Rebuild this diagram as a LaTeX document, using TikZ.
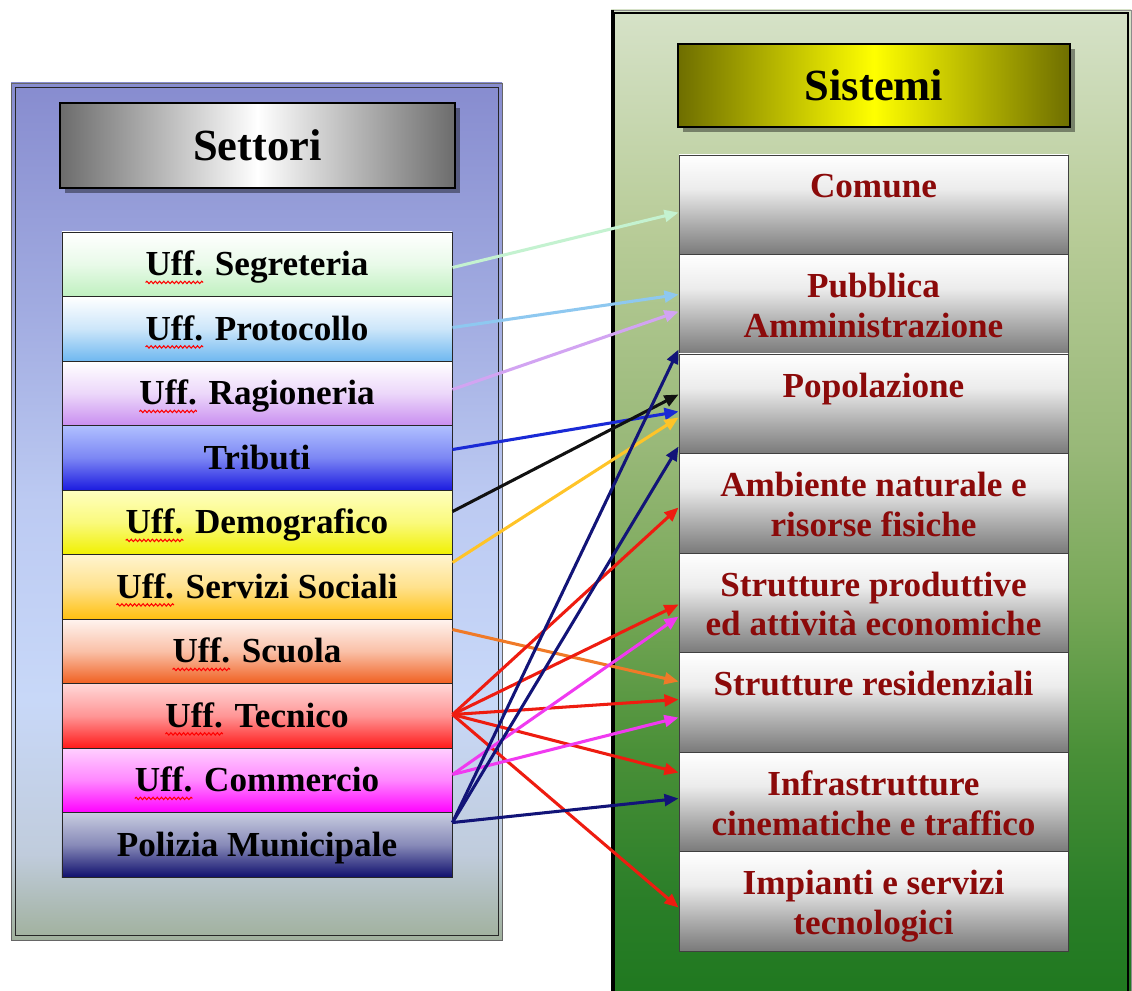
\documentclass[tikz,border=0pt]{standalone}
\usepackage{fontspec}
\setmainfont{Liberation Serif}
\usetikzlibrary{arrows.meta,calc,shadows,decorations.pathmorphing}

% panel colours
\definecolor{lp0}{HTML}{A0B09C}
\definecolor{lp1}{HTML}{C0CCDC}
\definecolor{lp2}{HTML}{C8D8F8}
\definecolor{lp3}{HTML}{BCCAF2}
\definecolor{lp4}{HTML}{A0AAE0}
\definecolor{lp5}{HTML}{878CCF}
\definecolor{rp0}{HTML}{1F781F}
\definecolor{rp1}{HTML}{2A7E28}
\definecolor{rp2}{HTML}{4A9038}
\definecolor{rp3}{HTML}{78A858}
\definecolor{rp4}{HTML}{98B878}
\definecolor{rp5}{HTML}{B8CC98}
\definecolor{rp6}{HTML}{D6E2C8}
\definecolor{rr0}{HTML}{7A7A7A}
\definecolor{rr1}{HTML}{ACACAC}
\definecolor{rr2}{HTML}{ECECEC}
\definecolor{hdrgray}{HTML}{6C6C6C}
\definecolor{olive0}{HTML}{6E6E00}
\definecolor{maroon0}{HTML}{8B0A0A}
% row colours
\definecolor{segB}{HTML}{BFF0BF}
\definecolor{proB}{HTML}{6FB8F0}
\definecolor{ragB}{HTML}{C98EF0}
\definecolor{triT}{HTML}{B0C0FF}
\definecolor{triB}{HTML}{1C1CE0}
\definecolor{demT}{HTML}{FFFFC0}
\definecolor{demB}{HTML}{F0F000}
\definecolor{serT}{HTML}{FFF4D0}
\definecolor{serB}{HTML}{FFC010}
\definecolor{scuT}{HTML}{FFF4F0}
\definecolor{scuB}{HTML}{F06020}
\definecolor{tecT}{HTML}{FFD8D8}
\definecolor{tecB}{HTML}{FF1A1A}
\definecolor{comT}{HTML}{FFD0FF}
\definecolor{comB}{HTML}{FF00FF}
\definecolor{polT}{HTML}{C8CCE0}
\definecolor{polB}{HTML}{10106E}
% arrow colours
\definecolor{aSeg}{HTML}{C4F2D0}
\definecolor{aPro}{HTML}{8EC8F0}
\definecolor{aRag}{HTML}{D2A4F2}
\definecolor{aTri}{HTML}{1A2AD6}
\definecolor{aDem}{HTML}{111111}
\definecolor{aSer}{HTML}{FFC428}
\definecolor{aScu}{HTML}{F07A28}
\definecolor{aTec}{HTML}{EE1C10}
\definecolor{aCom}{HTML}{F03AF0}
\definecolor{aPol}{HTML}{121478}

\pgfdeclareverticalshading{lpanel}{100bp}{color(0bp)=(lp0); color(25bp)=(lp0); color(30bp)=(lp1); color(39bp)=(lp2); color(50.6bp)=(lp3); color(62.3bp)=(lp4); color(75bp)=(lp5); color(100bp)=(lp5)}
\pgfdeclareverticalshading{rpanel}{100bp}{color(0bp)=(rp0); color(25bp)=(rp0); color(30bp)=(rp1); color(37.6bp)=(rp2); color(45.2bp)=(rp3); color(52.8bp)=(rp4); color(63.9bp)=(rp5); color(75bp)=(rp6); color(100bp)=(rp6)}
\pgfdeclareverticalshading{rrowsh}{100bp}{color(0bp)=(rr0); color(25bp)=(rr0); color(40bp)=(rr1); color(58bp)=(rr2); color(75bp)=(white); color(100bp)=(white)}

\newlength\sqlen
\newcommand\rowfont{\fontsize{30}{34}\selectfont\bfseries}
% measure a row text (outside the picture) and keep its width
\newcommand\measurerow[2]{%
  \settowidth{\sqlen}{\rowfont #2}%
  \expandafter\xdef\csname rw#1\endcsname{\the\sqlen}}
% red spell-check squiggle under the word "Uff." of a centred row text
\newcommand\squig[1]{%
  \draw[red, line width=0.9pt, decorate,
    decoration={snake, amplitude=1pt, segment length=3.6pt}]
    ([xshift=-0.5*\csname rw#1\endcsname, yshift=-15.5pt]#1.center)
    -- ++(\csname rwUff\endcsname,0pt);}

\begin{document}
\measurerow{Uff}{Uff.}%
\measurerow{L1}{Uff. Segreteria}%
\measurerow{L2}{Uff. Protocollo}%
\measurerow{L3}{Uff. Ragioneria}%
\measurerow{L5}{Uff. Demografico}%
\measurerow{L6}{Uff. Servizi Sociali}%
\measurerow{L7}{Uff. Scuola}%
\measurerow{L8}{Uff. Tecnico}%
\measurerow{L9}{Uff. Commercio}%
\begin{tikzpicture}[x=0.03cm,y=-0.03cm,
  hdr/.style={draw=black, line width=2.5pt, inner sep=0pt,
    font=\fontsize{38}{44}\selectfont\bfseries,
    drop shadow={shadow xshift=4pt, shadow yshift=-4pt, fill=black, opacity=0.4}},
  lrow/.style 2 args={draw=black!85, line width=0.8pt, inner sep=0pt,
    minimum width=11.7cm, minimum height=1.935cm,
    text height=20pt, text depth=0pt,
    font=\rowfont,
    top color=#1, bottom color=#2, middle color=#1!65!#2},
  rrow/.style={draw=black!75, line width=0.8pt, inner sep=0pt,
    minimum width=11.67cm, minimum height=2.985cm, shade, shading=rrowsh},
  rtext/.style={inner sep=0pt, anchor=north, align=center, text=maroon0,
    font=\fontsize{30}{34}\selectfont\bfseries},
  arr/.style={line width=2.6pt, -{Triangle[length=12pt,width=10pt]}}]

\useasboundingbox (0,0) rectangle (1132,990);
\clip (0,0) rectangle (1132,990);
\fill[white] (0,0) rectangle (1132,990);

% left panel
\shade[shading=lpanel] (11,83) rectangle (502,940);
\draw[black!60, line width=0.8pt] (11,83) rectangle (502,940);
\draw[black!85, line width=0.8pt] (15,87) rectangle (498,935);

% right panel
\shade[shading=rpanel] (611,10) rectangle (1131,1000);
\draw[black!45, line width=0.8pt] (611,10) rectangle (1131,1000);
\draw[black, line width=1.6pt] (614,13) rectangle (1128,1000);
\draw[black, line width=2.4pt] (612.5,10) -- (612.5,1000);

% headers
\node[hdr, minimum width=11.85cm, minimum height=2.55cm,
  left color=hdrgray, right color=hdrgray, middle color=white] (settori) at (257.5,145.5) {Settori};
\node[hdr, minimum width=11.76cm, minimum height=2.49cm,
  left color=olive0, right color=olive0, middle color=yellow] (sistemi) at (874,85.5) {Sistemi};

% left rows
\node[lrow={white}{segB}] (L1) at (257,264.25) {Uff. Segreteria};
\node[lrow={white}{proB}] (L2) at (257,328.75) {Uff. Protocollo};
\node[lrow={white}{ragB}] (L3) at (257,393.25) {Uff. Ragioneria};
\node[lrow={triT}{triB}] (L4) at (257,457.75) {Tributi};
\node[lrow={demT}{demB}] (L5) at (257,522.25) {Uff. Demografico};
\node[lrow={serT}{serB}] (L6) at (257,586.75) {Uff. Servizi Sociali};
\node[lrow={scuT}{scuB}] (L7) at (257,651.25) {Uff. Scuola};
\node[lrow={tecT}{tecB}] (L8) at (257,715.75) {Uff. Tecnico};
\node[lrow={comT}{comB}] (L9) at (257,780.25) {Uff. Commercio};
\node[lrow={polT}{polB}] (L10) at (257,844.75) {Polizia Municipale};

\squig{L1}
\squig{L2}
\squig{L3}
\squig{L5}
\squig{L6}
\squig{L7}
\squig{L8}
\squig{L9}

% right rows
\node[rrow] (R1) at (873.5,204.75) {};
\node[rrow] (R2) at (873.5,304.25) {};
\node[rrow] (R3) at (873.5,403.75) {};
\node[rrow] (R4) at (873.5,503.25) {};
\node[rrow] (R5) at (873.5,602.75) {};
\node[rrow] (R6) at (873.5,702.25) {};
\node[rrow] (R7) at (873.5,801.75) {};
\node[rrow] (R8) at (873.5,901.25) {};

\node[rtext] (T1) at ($(R1.north)+(0,19)$) {Comune};
\node[rtext] (T2) at ($(R2.north)+(0,19)$) {Pubblica\\Amministrazione};
\node[rtext] (T3) at ($(R3.north)+(0,19)$) {Popolazione};
\node[rtext] (T4) at ($(R4.north)+(0,19)$) {Ambiente naturale e\\risorse fisiche};
\node[rtext] (T5) at ($(R5.north)+(0,19)$) {Strutture produttive\\ed attività economiche};
\node[rtext] (T6) at ($(R6.north)+(0,19)$) {Strutture residenziali};
\node[rtext] (T7) at ($(R7.north)+(0,19)$) {Infrastrutture\\cinematiche e traffico};
\node[rtext] (T8) at ($(R8.north)+(0,19)$) {Impianti e servizi\\tecnologici};

% connectors
\draw[arr, aSeg] ($(L1.north east)+(0,36)$) -- ($(R1.north west)+(0,58)$);
\draw[arr, aPro] ($(L2.north east)+(0,31.5)$) -- ($(R2.north west)+(0,40.5)$);
\draw[arr, aRag] ($(L3.north east)+(0,29)$) -- ($(R2.north west)+(0,57.5)$);
\draw[arr, aTri] ($(L4.north east)+(0,24.5)$) -- ($(R3.north west)+(0,58)$);
\draw[arr, aDem] ($(L5.north east)+(0,22)$) -- ($(R3.north west)+(0,41)$);
\draw[arr, aSer] ($(L6.north east)+(0,8.5)$) -- ($(R3.north west)+(0,64)$);
\draw[arr, aScu] ($(L7.north east)+(0,11)$) -- ($(R6.north west)+(0,29.5)$);
\draw[arr, aTec] ($(L8.north east)+(0,31.5)$) -- ($(R4.north west)+(0,54.5)$);
\draw[arr, aTec] ($(L8.north east)+(0,31.5)$) -- ($(R5.north west)+(0,52)$);
\draw[arr, aTec] ($(L8.north east)+(0,31.5)$) -- ($(R6.north west)+(0,47.5)$);
\draw[arr, aTec] ($(L8.north east)+(0,31.5)$) -- ($(R7.north west)+(0,21)$);
\draw[arr, aTec] ($(L8.north east)+(0,31.5)$) -- ($(R8.north west)+(0,56.5)$);
\draw[arr, aCom] ($(L9.north east)+(0,27)$) -- ($(R5.north west)+(0,64)$);
\draw[arr, aCom] ($(L9.north east)+(0,27)$) -- ($(R6.north west)+(0,65.5)$);
\draw[arr, aPol] ($(L10.north east)+(0,10.5)$) -- ($(R2.north west)+(0,95.5)$);
\draw[arr, aPol] ($(L10.north east)+(0,10.5)$) -- ($(R3.north west)+(0,93)$);
\draw[arr, aPol] ($(L10.north east)+(0,10.5)$) -- ($(R7.north west)+(0,47)$);
\end{tikzpicture}
\end{document}
